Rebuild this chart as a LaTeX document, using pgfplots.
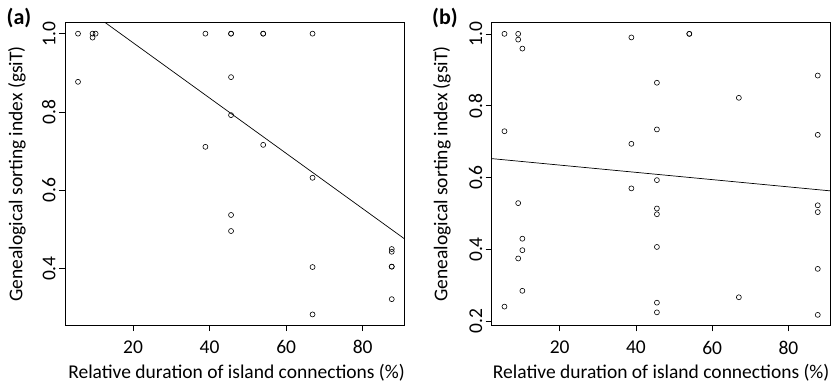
\documentclass[border=0pt]{standalone}
\usepackage{pgfplots}
\pgfplotsset{compat=1.18}
\usepackage{fontspec}
\setmainfont{Carlito}
\begin{document}
\begin{tikzpicture}[x=1pt,y=1pt]
\path[use as bounding box] (0,0) rectangle (831,384);
\pgfplotsset{rstyle/.style={
  scale only axis, width=339pt,
  xtick pos=bottom, ytick pos=left,
  tick align=outside, major tick length=6pt,
  tick style={black, line width=0.6pt},
  axis line style={line width=0.6pt},
  font=\fontsize{19.5}{22}\selectfont,
  /pgf/number format/assume math mode=true,
  xtick={20,40,60,80},
  xticklabel style={yshift=-6pt},
  yticklabel style={rotate=90, anchor=south, /pgf/number format/fixed, /pgf/number format/fixed zerofill, /pgf/number format/precision=1},
  xlabel={Relative duration of island connections (\%)},
  ylabel={Genealogical sorting index (gsiT)},
  clip=true,
}}
\begin{axis}[rstyle, at={(65pt,59pt)}, anchor=south west, height=302.3pt,
  xmin=2.2, xmax=90.8, ymin=0.256, ymax=1.028,
  ytick={0.4,0.6,0.8,1.0},
  xlabel style={at={(axis description cs:0.506,-0.1588)}, anchor=center},
  ylabel style={at={(axis description cs:-0.1416,0.5)}, anchor=center},
]
\addplot[only marks, mark=o, mark size=2.5pt, mark options={line width=0.6pt}] coordinates {
(5.6,1.0)(5.6,0.877)(9.4,1.0)(10.2,1.0)(9.4,0.99)(38.9,1.0)(38.9,0.711)
(45.6,1.0)(45.6,1.0)(45.6,0.889)(45.6,0.792)(45.6,0.537)(45.6,0.496)
(54.0,1.0)(54.0,1.0)(54.0,0.716)(66.9,1.0)(66.9,0.632)(66.9,0.404)(66.9,0.283)
(87.6,0.450)(87.6,0.443)(87.6,0.405)(87.6,0.405)(87.6,0.322)};
\addplot[black, line width=0.7pt] coordinates {(0,1.118)(100,0.412)};
\end{axis}
\begin{axis}[rstyle, at={(491.7pt,58.7pt)}, anchor=south west, height=302.6pt,
  xmin=2.15, xmax=91.1, ymin=0.189, ymax=1.031,
  ytick={0.2,0.4,0.6,0.8,1.0},
  xlabel style={at={(axis description cs:0.5,-0.1576)}, anchor=center},
  ylabel style={at={(axis description cs:-0.1466,0.5)}, anchor=center},
]
\addplot[only marks, mark=o, mark size=2.5pt, mark options={line width=0.6pt}] coordinates {
(5.5,1.0)(5.5,0.729)(5.5,0.241)(9.1,1.0)(9.1,0.984)(9.1,0.529)(9.1,0.375)
(10.2,0.959)(10.2,0.430)(10.2,0.398)(10.2,0.285)(38.8,0.990)(38.8,0.694)(38.8,0.570)
(45.5,0.864)(45.5,0.734)(45.5,0.593)(45.5,0.514)(45.5,0.498)(45.5,0.407)(45.5,0.252)(45.5,0.225)
(54.0,1.0)(54.0,1.0)(67.0,0.822)(67.0,0.267)
(87.7,0.884)(87.7,0.719)(87.7,0.523)(87.7,0.504)(87.7,0.346)(87.7,0.218)};
\addplot[black, line width=0.7pt] coordinates {(0,0.655)(100,0.554)};
\end{axis}
\node[font=\fontsize{22}{24}\selectfont\bfseries] at (19,366) {(a)};
\node[font=\fontsize{22}{24}\selectfont\bfseries] at (445,366) {(b)};
\end{tikzpicture}
\end{document}
